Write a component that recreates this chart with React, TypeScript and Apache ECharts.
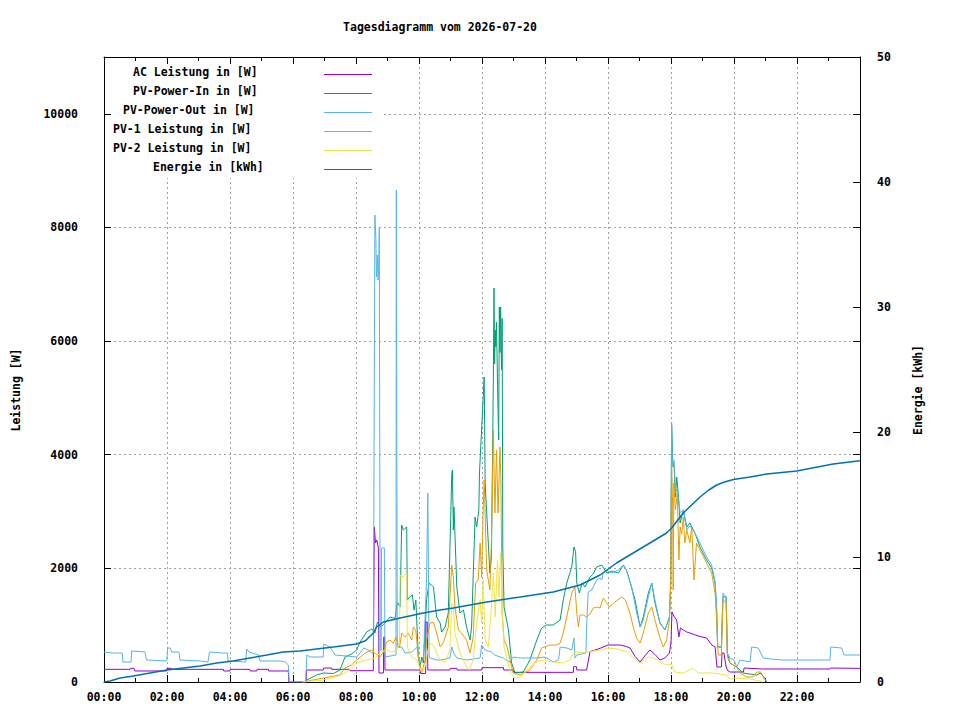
import React, { useEffect, useRef } from "react";
import * as echarts from "echarts";

const TITLE = "Tagesdiagramm vom 2026-07-20";
const Y_NAME_LEFT = "Leistung [W]";
const Y_NAME_RIGHT = "Energie [kWh]";

const seriesNames = [
  "AC Leistung in [W]",
  "PV-Power-In in [W]",
  "PV-Power-Out in [W]",
  "PV-1 Leistung in [W]",
  "PV-2 Leistung in [W]",
  "Energie in [kWh]",
];
const seriesColors = ["#9400d3", "#009e73", "#56b4e9", "#e69f00", "#f0e442", "#0072b2"];

// [hour of day, W]
const acData = [
  [0, 223], [0.83, 223], [0.84, 240], [0.95, 240], [0.98, 194], [1.99, 194], [2.0, 240], [2.15, 240],
  [2.16, 223], [3.79, 223], [3.8, 194], [4.0, 194], [4.01, 223], [4.63, 223], [4.64, 194], [4.85, 194],
  [4.86, 223], [5.22, 223], [5.23, 194], [5.85, 194], [5.87, 0], [6.42, 0], [6.43, 211], [6.96, 211],
  [6.97, 246], [7.22, 246], [7.23, 223], [7.8, 223], [7.81, 199], [8.55, 199], [8.58, 2728], [8.62, 2446],
  [8.66, 2499], [8.71, 2358], [8.73, 158], [8.87, 158], [8.88, 792], [8.91, 792], [8.92, 211], [10.03, 211],
  [10.05, 150], [10.21, 150], [10.22, 1056], [10.26, 1056], [10.28, 211], [10.98, 211], [10.99, 240],
  [11.2, 240], [11.21, 211], [11.99, 211], [12.0, 252], [12.68, 252], [12.69, 211], [12.99, 211], [13.0, 170],
  [14.9, 170], [14.91, 270], [15.0, 270], [15.01, 211], [15.32, 211], [15.43, 534], [15.75, 593], [16.0, 651],
  [16.4, 651], [16.6, 620], [16.7, 598], [16.86, 450], [17.02, 352], [17.2, 480], [17.33, 563], [17.5, 480],
  [17.65, 387], [17.8, 420], [17.95, 510], [18.0, 700], [18.03, 1232], [18.1, 1150], [18.18, 1091],
  [18.25, 792], [18.3, 950], [18.39, 915], [18.5, 880], [18.6, 862], [18.76, 830], [18.92, 800], [19.13, 774],
  [19.3, 650], [19.4, 616], [19.46, 264], [19.6, 264], [19.62, 510], [19.68, 510], [19.75, 264], [19.8, 200],
  [19.87, 176], [20.3, 176], [20.32, 246], [20.9, 229], [23.05, 229], [23.07, 246], [24, 240],
];

const pvInData = [
  [6.35, 0], [6.38, 20], [6.75, 123], [6.96, 158], [7.28, 150], [7.49, 211], [7.65, 440], [7.86, 493],
  [8.02, 563], [8.13, 704], [8.34, 880], [8.5, 933], [8.6, 860], [8.68, 1056], [8.76, 968], [8.87, 1003],
  [9.08, 1144], [9.24, 1120], [9.31, 1408], [9.4, 1320], [9.45, 2763], [9.5, 2675], [9.61, 2728],
  [9.63, 1443], [9.71, 1500], [9.79, 1531], [9.84, 1267], [9.9, 1443], [9.98, 440], [10.03, 264],
  [10.09, 440], [10.14, 334], [10.24, 1443], [10.32, 1742], [10.46, 1672], [10.56, 1144], [10.67, 1038],
  [10.72, 880], [10.83, 968], [10.93, 1214], [11.04, 3643], [11.06, 3731], [11.09, 2675], [11.11, 3080],
  [11.14, 2622], [11.2, 1672], [11.3, 1214], [11.41, 1267], [11.51, 968], [11.62, 739], [11.67, 968],
  [11.78, 2904], [11.83, 2728], [11.9, 3027], [11.92, 3678], [11.99, 4470], [12.07, 5368], [12.1, 3500],
  [12.15, 2974], [12.25, 1918], [12.3, 2200], [12.36, 5315], [12.38, 6934], [12.4, 5600], [12.42, 6195],
  [12.44, 5900], [12.46, 6336], [12.5, 5000], [12.53, 4259], [12.55, 6600], [12.57, 5800], [12.59, 6600],
  [12.62, 5500], [12.64, 6400], [12.66, 2376], [12.7, 1320], [12.84, 915], [12.94, 334], [13.05, 158],
  [13.31, 176], [13.52, 387], [13.74, 739], [13.89, 950], [14.05, 1003], [14.26, 1003], [14.48, 1091],
  [14.58, 1443], [14.69, 1742], [14.85, 2024], [14.92, 2376], [14.97, 2300], [15.01, 1742], [15.09, 1566],
  [15.18, 1742], [15.27, 1672], [15.43, 1848], [15.53, 1900], [15.64, 2024], [15.8, 2059], [15.96, 1918],
  [16.12, 1950], [16.33, 1918], [16.49, 2059], [16.6, 1950], [16.7, 1760], [16.86, 1443], [17.02, 968],
  [17.12, 1144], [17.28, 1566], [17.39, 1742], [17.49, 1390], [17.65, 1038], [17.81, 915], [17.95, 1144],
  [17.99, 1700], [18.02, 4523], [18.06, 3854], [18.1, 3784], [18.14, 3256], [18.18, 3608], [18.23, 3326],
  [18.29, 2798], [18.39, 3027], [18.5, 2728], [18.6, 2798], [18.76, 2622], [18.92, 2376], [19.13, 2147],
  [19.29, 2006], [19.4, 1742], [19.45, 1214], [19.48, 616], [19.6, 616], [19.65, 1500], [19.75, 1496],
  [19.79, 510], [19.87, 334], [20.09, 264], [20.29, 158], [20.72, 123], [20.83, 158], [20.98, 70], [21.04, 0],
];

const pvOutData = [
  [0, 528], [0.3, 510], [0.58, 510], [0.6, 352], [0.86, 352], [0.88, 546], [1.3, 528], [1.35, 387],
  [1.99, 370], [2.02, 598], [2.1, 598], [2.15, 528], [2.38, 528], [2.41, 387], [3.05, 370], [3.3, 352],
  [3.35, 528], [3.79, 510], [3.92, 510], [3.94, 370], [4.5, 352], [4.53, 581], [4.6, 528], [4.9, 475],
  [4.95, 370], [5.6, 370], [5.75, 352], [5.85, 300], [5.88, 0], [6.4, 0], [6.44, 475], [6.54, 440],
  [6.96, 440], [6.98, 669], [7.17, 616], [7.28, 528], [7.33, 475], [8.02, 440], [8.25, 598], [8.4, 563],
  [8.5, 510], [8.55, 510], [8.57, 3608], [8.6, 8219], [8.63, 7832], [8.65, 7128], [8.68, 7515],
  [8.7, 7075], [8.72, 7300], [8.74, 7990], [8.76, 2376], [8.77, 563], [8.8, 550], [8.81, 2358],
  [8.9, 2358], [8.92, 440], [9.27, 475], [9.28, 8659], [9.3, 8659], [9.31, 616], [9.45, 616], [9.56, 510],
  [9.77, 528], [9.93, 616], [10.03, 334], [10.14, 387], [10.24, 1795], [10.28, 3326], [10.3, 3326],
  [10.32, 475], [10.35, 422], [10.56, 387], [10.67, 387], [10.98, 422], [11.04, 616], [11.1, 510],
  [11.2, 422], [11.51, 387], [11.94, 422], [11.99, 651], [12.1, 563], [12.3, 528], [12.4, 475],
  [12.68, 422], [12.75, 387], [12.89, 352], [12.99, 440], [13.21, 422], [13.74, 422], [14.0, 440],
  [14.26, 352], [14.43, 387], [14.48, 616], [14.69, 598], [14.85, 563], [14.92, 774], [14.95, 422],
  [15.01, 475], [15.3, 510], [15.32, 968], [15.37, 1584], [15.48, 1619], [15.53, 1672], [15.64, 1795],
  [15.75, 1830], [15.8, 1795], [15.85, 1918], [15.95, 1971], [16.1, 1918], [16.33, 1971], [16.49, 2059],
  [16.58, 1971], [16.75, 1672], [16.91, 1214], [17.02, 968], [17.12, 1091], [17.28, 1496], [17.39, 1742],
  [17.49, 1443], [17.65, 1038], [17.81, 915], [17.95, 1144], [17.99, 1795], [18.02, 4558], [18.05, 3784],
  [18.1, 3900], [18.14, 3326], [18.2, 3400], [18.29, 2974], [18.39, 3027], [18.5, 2675], [18.6, 2750],
  [18.76, 2622], [18.92, 2446], [19.13, 2200], [19.29, 2059], [19.4, 1760], [19.45, 1320], [19.48, 616],
  [19.6, 616], [19.65, 1566], [19.75, 1496], [19.79, 510], [19.87, 422], [20.0, 387], [20.09, 264],
  [20.19, 387], [20.51, 352], [20.56, 616], [20.77, 598], [20.93, 422], [21.25, 400], [21.57, 387],
  [23.05, 387], [23.07, 616], [23.42, 598], [23.49, 475], [24, 475],
];

const pv1Data = [
  [6.3, 0], [6.96, 70], [7.49, 123], [7.65, 246], [7.86, 299], [8.02, 387], [8.34, 528], [8.5, 563],
  [8.6, 510], [8.76, 440], [8.87, 528], [8.97, 704], [9.08, 739], [9.18, 680], [9.27, 792], [9.38, 598],
  [9.45, 862], [9.56, 792], [9.66, 862], [9.77, 739], [9.82, 968], [9.9, 900], [9.98, 440], [10.09, 158],
  [10.19, 387], [10.24, 739], [10.35, 1038], [10.46, 1050], [10.56, 862], [10.67, 616], [10.77, 686],
  [10.93, 968], [11.04, 2059], [11.09, 1848], [11.14, 1320], [11.25, 915], [11.35, 862], [11.51, 739],
  [11.62, 510], [11.72, 792], [11.8, 1742], [11.88, 1795], [11.94, 2446], [11.99, 1848], [12.04, 3080],
  [12.07, 3555], [12.15, 1971], [12.25, 1619], [12.3, 2500], [12.36, 4435], [12.41, 2974], [12.46, 4083],
  [12.51, 2974], [12.57, 4136], [12.6, 3555], [12.64, 1214], [12.7, 739], [12.8, 616], [12.89, 387],
  [12.99, 158], [13.21, 123], [13.52, 211], [13.74, 387], [13.89, 598], [14.16, 651], [14.37, 651],
  [14.48, 686], [14.58, 862], [14.69, 1144], [14.85, 1566], [14.95, 1672], [15.01, 1214], [15.06, 968],
  [15.11, 1179], [15.22, 1179], [15.32, 1144], [15.43, 1200], [15.53, 1300], [15.64, 1320], [15.75, 1302],
  [15.85, 1478], [15.95, 1400], [16.05, 1320], [16.2, 1400], [16.43, 1496], [16.55, 1443], [16.7, 1214],
  [16.8, 968], [16.91, 774], [17.02, 686], [17.12, 862], [17.28, 1214], [17.39, 1320], [17.49, 1091],
  [17.65, 774], [17.76, 616], [17.86, 739], [17.95, 1091], [17.99, 1700], [18.02, 3854], [18.05, 3150],
  [18.07, 1619], [18.09, 3502], [18.14, 3027], [18.2, 3326], [18.25, 2147], [18.29, 2728], [18.34, 2600],
  [18.39, 2904], [18.44, 2446], [18.5, 2675], [18.6, 2446], [18.66, 2728], [18.73, 1795], [18.81, 2446],
  [18.92, 2323], [19.13, 2094], [19.29, 1918], [19.4, 1566], [19.45, 1091], [19.5, 475], [19.6, 475],
  [19.65, 1443], [19.75, 1400], [19.79, 440], [19.87, 334], [20.09, 264], [20.19, 158], [20.4, 88],
  [20.6, 88], [20.72, 176], [20.85, 176], [20.95, 60], [21.04, 0],
];

const pv2Data = [
  [6.3, 0], [6.96, 35], [7.38, 88], [7.65, 158], [7.86, 246], [8.02, 334], [8.34, 387], [8.6, 422],
  [8.76, 510], [8.97, 563], [9.13, 528], [9.3, 563], [9.38, 700], [9.4, 1883], [9.5, 1848], [9.61, 1918],
  [9.63, 616], [9.77, 440], [9.93, 387], [10.03, 246], [10.09, 158], [10.19, 264], [10.3, 616], [10.4, 686],
  [10.5, 600], [10.56, 510], [10.67, 387], [10.83, 352], [10.98, 563], [11.04, 1390], [11.09, 1350],
  [11.14, 862], [11.3, 510], [11.51, 264], [11.6, 211], [11.72, 387], [11.83, 1038], [11.94, 1443],
  [11.99, 1038], [12.04, 1795], [12.1, 739], [12.2, 616], [12.3, 1320], [12.36, 1918], [12.42, 1144],
  [12.49, 2147], [12.54, 1500], [12.59, 2270], [12.66, 1038], [12.7, 616], [12.8, 387], [12.91, 158],
  [13.05, 70], [13.21, 88], [13.42, 211], [13.68, 334], [13.89, 387], [14.26, 352], [14.58, 334],
  [14.79, 387], [14.9, 510], [15.01, 528], [15.15, 510], [15.32, 528], [15.75, 563], [16.0, 598],
  [16.3, 580], [16.62, 528], [16.8, 422], [17.02, 334], [17.28, 440], [17.45, 420], [17.65, 352],
  [17.86, 299], [18.02, 310], [18.12, 176], [18.39, 158], [18.7, 246], [18.86, 158], [19.3, 160],
  [19.77, 123], [19.87, 53], [20.03, 70], [20.51, 53], [20.8, 20], [20.9, 0],
];

// [hour of day, kWh]
const energyData = [
  [0, 0], [0.19, 0.08], [0.51, 0.32], [0.93, 0.48], [1.46, 0.72], [1.99, 0.96], [2.52, 1.12], [3.05, 1.28],
  [3.58, 1.52], [4.1, 1.68], [4.63, 1.92], [5.17, 2.16], [5.69, 2.4], [6.22, 2.48], [6.75, 2.64],
  [7.28, 2.8], [8.02, 3.04], [8.3, 3.3], [8.55, 3.92], [8.65, 4.4], [8.87, 4.8], [9.4, 5.12],
  [10.14, 5.52], [10.67, 5.76], [11.09, 5.92], [12.15, 6.4], [13.21, 6.8], [14.26, 7.2], [15.11, 7.76],
  [15.75, 8.56], [16.27, 9.52], [16.8, 10.32], [17.33, 11.12], [17.86, 11.92], [18.02, 12.32],
  [18.39, 13.52], [18.92, 14.8], [19.2, 15.36], [19.45, 15.76], [19.7, 16.0], [19.98, 16.2],
  [20.51, 16.4], [21.04, 16.64], [21.99, 16.88], [23.15, 17.44], [24, 17.7],
];

const seriesData = [acData, pvInData, pvOutData, pv1Data, pv2Data, energyData];

const FONT = "DejaVu Sans Mono";
const FS = 11.5;

function hourLabel(v: number) {
  if (v >= 24) return "";
  const h = Math.round(v);
  return (h < 10 ? "0" : "") + h + ":00";
}

export default function App() {
  const ref = useRef<HTMLDivElement>(null);
  useEffect(() => {
    if (!ref.current) return;
    const chart = echarts.init(ref.current, undefined, { renderer: "svg" });
    const txt = { fontFamily: FONT, fontSize: FS, fontWeight: "bold" as const, color: "#000" };
    const gridLine = { show: true, lineStyle: { color: "#a0a0a0", width: 1, type: [2, 3] as any } };
    const black = { color: "#000", width: 1 };
    const axisLine = { show: true, onZero: false, lineStyle: black };

    const legendLefts = [133, 133, 123, 113, 113, 153];
    const legendGraphics: any[] = [
      { type: "rect", z: 10, shape: { x: 113, y: 65, width: 269, height: 113 }, style: { fill: "#fff" } },
    ];
    seriesNames.forEach((n, i) => {
      const y = 72 + i * 19;
      legendGraphics.push({
        type: "text", z: 11, x: legendLefts[i], y,
        style: { text: n, fontFamily: FONT, fontSize: FS, fontWeight: "bold", fill: "#000", align: "left", verticalAlign: "middle" },
      });
      legendGraphics.push({
        type: "line", z: 11, shape: { x1: 324, y1: y + 2.5, x2: 372, y2: y + 2.5 },
        style: { stroke: seriesColors[i], lineWidth: 1.2 },
      });
    });

    const option: any = {
      animation: false,
      backgroundColor: "#fff",
      grid: { left: 104, right: 100, top: 57, bottom: 38, containLabel: false, outerBoundsMode: "none" },
      xAxis: [
        {
          type: "value", min: 0, max: 24, interval: 2, position: "bottom",
          axisLine,
          axisTick: { show: true, inside: true, length: 7, lineStyle: black },
          minorTick: { show: true, splitNumber: 2, length: 4, lineStyle: black },
          splitLine: gridLine,
          axisLabel: { ...txt, margin: 9, formatter: hourLabel, showMinLabel: true, showMaxLabel: true },
        },
        {
          type: "value", min: 0, max: 24, interval: 2, position: "top",
          axisLine,
          axisTick: { show: true, inside: true, length: 7, lineStyle: black },
          minorTick: { show: true, splitNumber: 2, length: 4, lineStyle: black },
          splitLine: { show: false },
          axisLabel: { show: false },
        },
      ],
      yAxis: [
        {
          type: "value", min: 0, max: 11000, interval: 2000, position: "left",
          axisLine,
          axisTick: { show: true, inside: true, length: 7, lineStyle: black },
          splitLine: gridLine,
          axisLabel: { ...txt, margin: 26, formatter: (v: number) => (v > 10000 ? "" : String(v)), showMinLabel: true },
        },
        {
          type: "value", min: 0, max: 50, interval: 10, position: "right", offset: 0,
          axisLine,
          axisTick: { show: true, inside: true, length: 7, lineStyle: black },
          splitLine: { show: false },
          axisLabel: { ...txt, margin: 17, showMinLabel: true, showMaxLabel: true },
        },
        {
          type: "value", min: 0, max: 11000, interval: 2000, position: "right", offset: 0,
          axisLine: { show: false, onZero: false },
          axisTick: { show: true, inside: true, length: 7, lineStyle: black },
          splitLine: { show: false },
          axisLabel: { show: false },
        },
      ],
      series: seriesNames.map((n, i) => ({
        name: n,
        type: "line",
        xAxisIndex: 0,
        yAxisIndex: i === 5 ? 1 : 0,
        data: seriesData[i],
        showSymbol: false,
        symbol: "none",
        silent: true,
        lineStyle: { color: seriesColors[i], width: i === 5 ? 1.5 : 1 },
        itemStyle: { color: seriesColors[i] },
        z: 2 + i,
      })),
      graphic: [
        {
          type: "text", x: 440, y: 27,
          style: { text: TITLE, fontFamily: FONT, fontSize: FS, fontWeight: "bold", fill: "#000", align: "center", verticalAlign: "middle" },
        },
        {
          type: "text", x: 16, y: 390, rotation: Math.PI / 2,
          style: { text: Y_NAME_LEFT, fontFamily: FONT, fontSize: FS, fontWeight: "bold", fill: "#000", align: "center", verticalAlign: "middle" },
        },
        {
          type: "text", x: 918, y: 390, rotation: Math.PI / 2,
          style: { text: Y_NAME_RIGHT, fontFamily: FONT, fontSize: FS, fontWeight: "bold", fill: "#000", align: "center", verticalAlign: "middle" },
        },
        ...legendGraphics,
      ],
    };
    chart.setOption(option);
    return () => chart.dispose();
  }, []);
  return (
    <div
      ref={ref}
      style={{ position: "fixed", left: 0, top: 0, width: 960, height: 720, background: "#fff" }}
    />
  );
}
